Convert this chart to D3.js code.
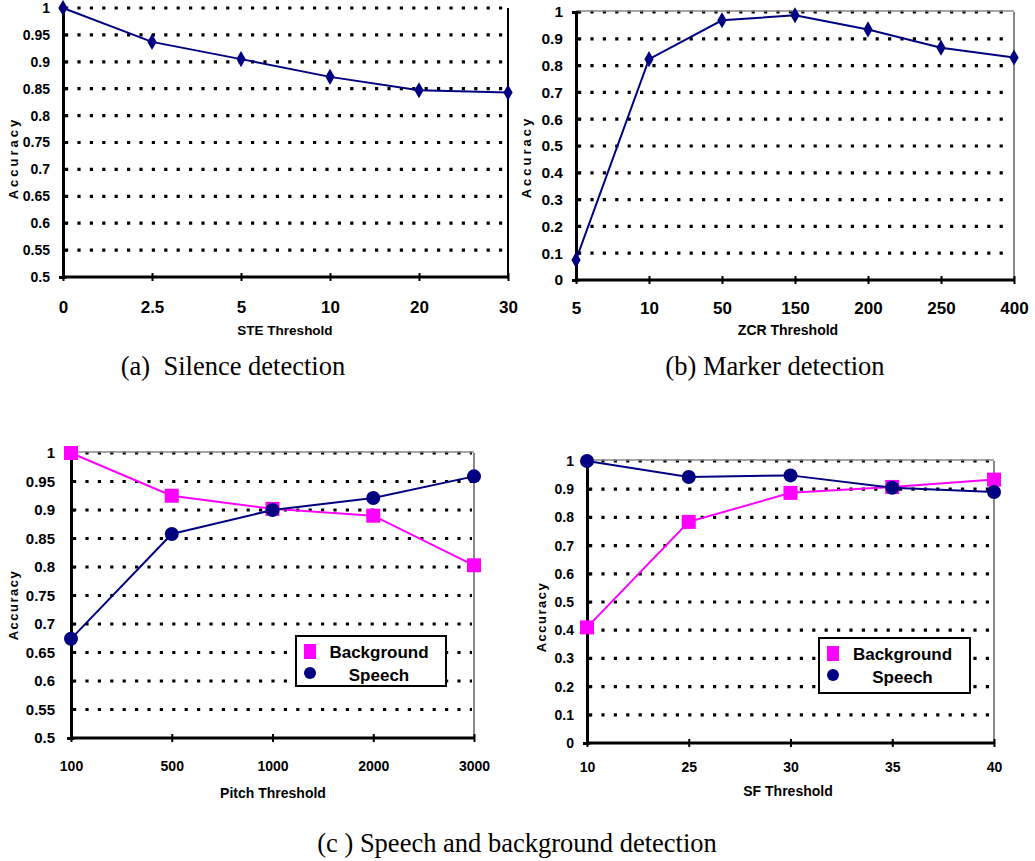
<html>
<script src="https://d3js.org/d3.v7.min.js"></script>
<style>
  body { margin: 0; background: white; }
  text { font-family: "Liberation Sans", Arial, sans-serif; font-weight: bold; }
  .cap { font-family: "Liberation Serif", "Times New Roman", serif; font-weight: normal; }
</style>
<body>
<div id="div1"></div>
<script>

// Chart data
var steLabels = ["0", "2.5", "5", "10", "20", "30"]
var steAcc = [1.0, 0.937, 0.905, 0.872, 0.847, 0.843]

var zcrLabels = ["5", "10", "50", "150", "200", "250", "400"]
var zcrAcc = [0.075, 0.824, 0.969, 0.988, 0.935, 0.867, 0.83]

var pitchLabels = ["100", "500", "1000", "2000", "3000"]
var pitchBackground = [1.0, 0.925, 0.902, 0.89, 0.803]
var pitchSpeech = [0.674, 0.858, 0.9, 0.921, 0.959]

var sfLabels = ["10", "25", "30", "35", "40"]
var sfBackground = [0.41, 0.784, 0.887, 0.908, 0.934]
var sfSpeech = [1.0, 0.943, 0.949, 0.905, 0.89]

var yTicksHalf = [0.5, 0.55, 0.6, 0.65, 0.7, 0.75, 0.8, 0.85, 0.9, 0.95, 1]
var yTicksFull = [0, 0.1, 0.2, 0.3, 0.4, 0.5, 0.6, 0.7, 0.8, 0.9, 1]

var seriesNames = ["Background", "Speech"]

var navy = "#000080"
var magenta = "#ff00ff"

var svg_width = 1035
var svg_height = 861

var svg = d3.select("#div1").append("svg")
  .attr("width", svg_width)
  .attr("height", svg_height)

var fmt = function(d) { return String(+d.toFixed(2)) }

var draw_marker = function(g, kind, cx, cy, color, small) {
  if (kind == "diamond") {
    g.append("path").attr("d", d3.symbol().type(d3.symbolDiamond).size(75)())
      .attr("transform", "translate(" + cx + "," + cy + ")").style("fill", color)
  }
  else if (kind == "square") {
    var s = small ? 12 : 14
    g.append("rect").attr("x", cx - s / 2).attr("y", cy - s / 2).attr("width", s).attr("height", s * (small ? 1.25 : 1))
      .style("fill", color)
  }
  else {
    g.append("circle").attr("cx", cx).attr("cy", cy).attr("r", small ? 6 : 7)
      .style("fill", color)
  }
}

var draw_panel = function(p) {
  var g = svg.append("g")

  var x = d3.scalePoint().domain(p.labels).range([p.left, p.right])
  var y = d3.scaleLinear().domain([p.yTicks[0], p.yTicks[p.yTicks.length - 1]]).range([p.bottom, p.top])

  // dotted gridlines
  g.selectAll(".grid").data(p.yTicks.slice(1)).enter().append("line")
    .attr("x1", p.left + 2).attr("x2", p.right - 2)
    .attr("y1", function(d) { return y(d) }).attr("y2", function(d) { return y(d) })
    .style("stroke", "black").style("stroke-width", 3.2)
    .style("stroke-dasharray", "3.2,9.2")

  // frame
  if (p.topBorder) {
    g.append("line").attr("x1", p.left).attr("x2", p.right).attr("y1", p.top - 1).attr("y2", p.top - 1)
      .style("stroke", "#888").style("stroke-width", 1.5)
  }
  g.append("line").attr("x1", p.right).attr("x2", p.right).attr("y1", p.top).attr("y2", p.bottom)
    .style("stroke", p.rightColor).style("stroke-width", 2)

  // y axis
  var yAxis = g.append("g").attr("transform", "translate(" + p.left + ",0)")
    .call(d3.axisLeft(y).tickValues(p.yTicks).tickFormat(fmt).tickSize(4).tickPadding(p.yPad))
  yAxis.select(".domain").style("stroke", "black").style("stroke-width", 3)
  yAxis.selectAll(".tick line").attr("x2", 4).attr("x1", 0).style("stroke-width", 2)
  yAxis.selectAll("text").style("font-size", p.yFont + "px").style("font-family", null)

  // x axis
  var xAxis = g.append("g").attr("transform", "translate(0," + p.bottom + ")")
    .call(d3.axisBottom(x).tickSize(0).tickPadding(p.xPad))
  xAxis.select(".domain").attr("d", "M" + p.left + ",0H" + p.right).style("stroke", "black").style("stroke-width", 3)
  xAxis.selectAll(".tick line").attr("y1", -4).attr("y2", 4).style("stroke", "black").style("stroke-width", 2)
  xAxis.selectAll("text").style("font-size", p.xFont + "px").style("font-family", null)

  // axis titles
  g.append("text").text(p.xTitle)
    .attr("x", p.xTitleX).attr("y", p.xTitleY)
    .attr("text-anchor", "middle").style("font-size", p.titleFont + "px")

  g.append("text").text("Accuracy")
    .attr("transform", "translate(" + p.yTitleX + "," + p.yTitleY + ") rotate(-90)")
    .attr("text-anchor", "middle").style("font-size", "13px")
    .style("letter-spacing", p.yTitleSpacing + "px")

  // series
  p.series.forEach(function(s) {
    var pts = s.values.map(function(v, i) { return [x(p.labels[i]), y(v)] })
    g.append("path").attr("d", d3.line()(pts))
      .style("fill", "none").style("stroke", s.color).style("stroke-width", 2)
    pts.forEach(function(pt) {
      draw_marker(g, s.marker, pt[0], pt[1], s.color)
    })
  })

  // legend
  if (p.legend) {
    var L = p.legend
    g.append("rect").attr("x", L.x).attr("y", L.y).attr("width", L.w).attr("height", L.h)
      .style("fill", "white").style("stroke", "black").style("stroke-width", 2)
    p.series.forEach(function(s, i) {
      var ly = L.y + 16 + i * 23
      draw_marker(g, s.marker, L.x + 14, ly - 2, s.color, true)
      g.append("text").text(s.name)
        .attr("x", L.x + L.w / 2 + 8).attr("y", ly + 6)
        .attr("text-anchor", "middle").style("font-size", "17px")
    })
  }

  // caption
  if (p.caption) {
    g.append("text").attr("class", "cap").text(p.caption)
      .attr("x", p.capX).attr("y", p.capY)
      .attr("text-anchor", "middle").style("font-size", "26.5px")
      .style("white-space", "pre").attr("xml:space", "preserve")
  }
}

draw_panel({
  labels: steLabels, yTicks: yTicksHalf,
  left: 63, right: 508, top: 8, bottom: 277,
  topBorder: false, rightColor: "black",
  yFont: 14, yPad: 9, xFont: 17, xPad: 24,
  xTitle: "STE Threshold", xTitleX: 285, xTitleY: 335, titleFont: 13.5,
  yTitleX: 18, yTitleY: 158, yTitleSpacing: 3,
  series: [{ name: "STE", values: steAcc, color: navy, marker: "diamond" }],
  caption: "(a)  Silence detection", capX: 233, capY: 375
})

draw_panel({
  labels: zcrLabels, yTicks: yTicksFull,
  left: 576, right: 1014, top: 12, bottom: 280,
  topBorder: true, rightColor: "#888",
  yFont: 15.5, yPad: 9, xFont: 17, xPad: 22,
  xTitle: "ZCR Threshold", xTitleX: 788, xTitleY: 335, titleFont: 14,
  yTitleX: 531, yTitleY: 157, yTitleSpacing: 3,
  series: [{ name: "ZCR", values: zcrAcc, color: navy, marker: "diamond" }],
  caption: "(b) Marker detection", capX: 775, capY: 375
})

draw_panel({
  labels: pitchLabels, yTicks: yTicksHalf,
  left: 71, right: 474, top: 453, bottom: 738,
  topBorder: true, rightColor: "#888",
  yFont: 15, yPad: 12, xFont: 14, xPad: 23,
  xTitle: "Pitch Threshold", xTitleX: 273, xTitleY: 798, titleFont: 14,
  yTitleX: 18, yTitleY: 605, yTitleSpacing: 1.5,
  series: [
    { name: seriesNames[0], values: pitchBackground, color: magenta, marker: "square" },
    { name: seriesNames[1], values: pitchSpeech, color: navy, marker: "circle" }
  ],
  legend: { x: 296, y: 636, w: 150, h: 50 }
})

draw_panel({
  labels: sfLabels, yTicks: yTicksFull,
  left: 587, right: 994, top: 461, bottom: 743,
  topBorder: true, rightColor: "#888",
  yFont: 14, yPad: 9, xFont: 14, xPad: 19,
  xTitle: "SF Threshold", xTitleX: 788, xTitleY: 796, titleFont: 14,
  yTitleX: 546, yTitleY: 617, yTitleSpacing: 1.5,
  series: [
    { name: seriesNames[0], values: sfBackground, color: magenta, marker: "square" },
    { name: seriesNames[1], values: sfSpeech, color: navy, marker: "circle" }
  ],
  legend: { x: 819, y: 638, w: 151, h: 55 }
})

svg.append("text").attr("class", "cap").text("(c ) Speech and background detection")
  .attr("x", 517).attr("y", 852)
  .attr("text-anchor", "middle").style("font-size", "26.5px")

</script>
</body>
</html>
